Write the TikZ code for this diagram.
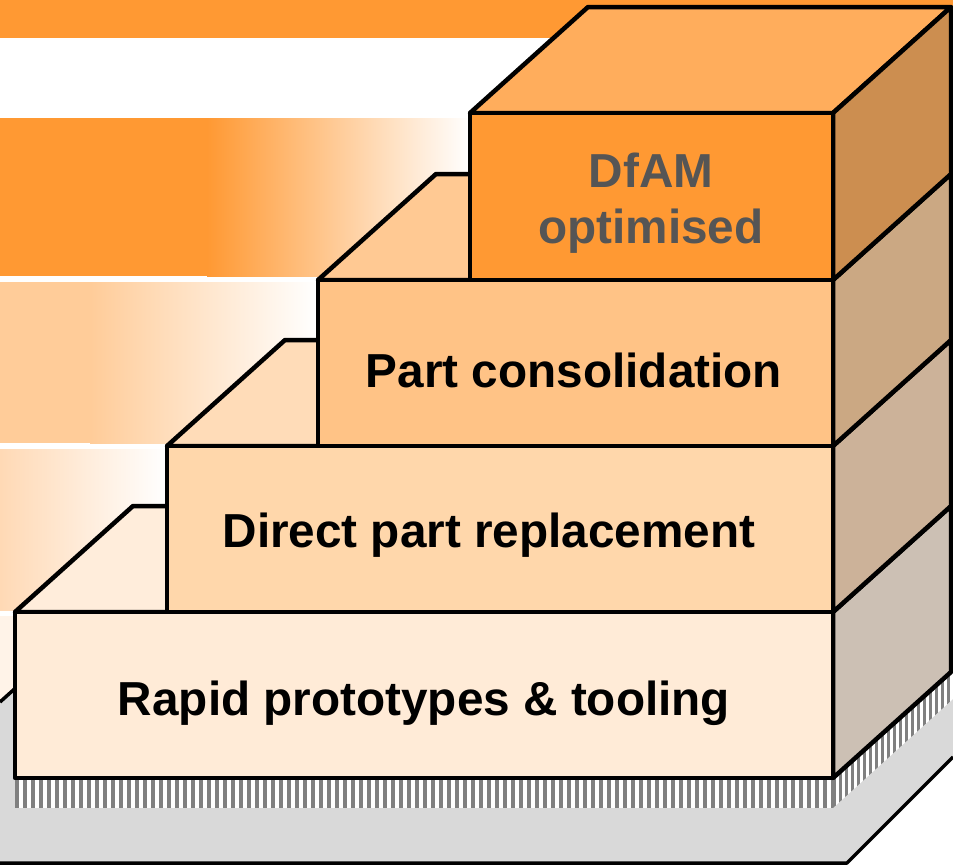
\documentclass[tikz,border=0pt]{standalone}
\usepackage{fontspec}
\setmainfont{Liberation Sans}

% palette
\definecolor{bandorange}{HTML}{FF9933}
\definecolor{bandlight}{HTML}{FFCC99}
\definecolor{bandpale}{HTML}{FFD9B5}
\definecolor{bandfaint}{HTML}{FFF3E8}
\definecolor{topA}{HTML}{FFEDDB}
\definecolor{frontA}{HTML}{FFEBD7}
\definecolor{sideA}{HTML}{CCC0B4}
\definecolor{topB}{HTML}{FFDCB8}
\definecolor{frontB}{HTML}{FFD7AB}
\definecolor{sideB}{HTML}{CCB299}
\definecolor{topC}{HTML}{FFC993}
\definecolor{frontC}{HTML}{FFC386}
\definecolor{sideC}{HTML}{CBA883}
\definecolor{topD}{HTML}{FFAD5C}
\definecolor{frontD}{HTML}{FF9933}
\definecolor{sideD}{HTML}{CC8E50}
\definecolor{slab}{HTML}{D9D9D9}
\definecolor{hatchgrey}{HTML}{808080}
\definecolor{labelgrey}{HTML}{555555}

\tikzset{
  edge/.style={draw=black, line width=4.5pt, line join=round},
  slabedge/.style={draw=black, line width=3.5pt, line join=round},
  lbl/.style={font=\fontsize{47.7}{56}\selectfont\bfseries, inner sep=0pt, anchor=base},
}

% one step block: #1 left x, #2 top y, #3 bottom y, #4 top, #5 side, #6 front colour
\newcommand\stepblock[6]{%
  \filldraw[edge, fill=#4] (#1,#2) -- ++(118,-106) -- (951,{#2-106}) -- (833,#2) -- cycle;
  \filldraw[edge, fill=#5] (833,#2) -- (951,{#2-106}) -- (951,{#3-106}) -- (833,#3) -- cycle;
  \filldraw[edge, fill=#6] (#1,#2) rectangle (833,#3);
}

\begin{document}
\begin{tikzpicture}[x=1pt, y=-1pt]
\useasboundingbox (0,0) rectangle (953,865);
\fill[white] (0,0) rectangle (953,865);

% horizontal background bands fading out towards the steps
\fill[bandorange] (0,0) rectangle (953,38);
\fill[bandorange] (0,118) rectangle (208,276);
\shade[left color=bandorange, right color=white] (207,118) rectangle (470,276);
\fill[bandlight] (0,282) rectangle (91,443);
\shade[left color=bandlight, right color=white] (90,282) rectangle (318,443);
\shade[left color=bandpale, right color=white] (0,449) rectangle (167,610);
\fill[bandfaint] (0,616) rectangle (16,780);

% grey base slab
\fill[slab] (0,702) -- (150,567) -- (953,567) -- (953,757) -- (847,863) -- (0,863) -- cycle;
\draw[slabedge] (0,702) -- (150,567);
\draw[slabedge] (0,863) -- (847,863) -- (953,757);

% striped edge of the slab, front
\fill[white] (15,780) rectangle (833,808);
\begin{scope}
  \clip (15,780) rectangle (833,808);
  \foreach \x in {15,23,...,833} \fill[hatchgrey] (\x,780) rectangle ++(4,28);
\end{scope}
% striped edge of the slab, right side
\fill[white] (833,780) -- (953,673) -- (953,699) -- (833,808) -- cycle;
\begin{scope}
  \clip (833,780) -- (953,673) -- (953,699) -- (833,808) -- cycle;
  \foreach \x in {833,839,...,953} \fill[hatchgrey] (\x,660) rectangle ++(3,160);
\end{scope}

% the four steps, bottom to top
\stepblock{15}{612}{778}{topA}{sideA}{frontA}
\stepblock{167}{446}{612}{topB}{sideB}{frontB}
\stepblock{318}{280}{446}{topC}{sideC}{frontC}
\stepblock{470}{113}{280}{topD}{sideD}{frontD}

% labels
\node[lbl] (rapid) at (424,715) {Rapid prototypes \& tooling};
\node[lbl] (direct) at (489,547) {Direct part replacement};
\node[lbl] (consol) at (574,387) {Part consolidation};
\node[lbl, text=labelgrey] (dfam) at (651,187) {DfAM};
\node[lbl, text=labelgrey] (optim) at (651,243) {optimised};
\end{tikzpicture}
\end{document}
